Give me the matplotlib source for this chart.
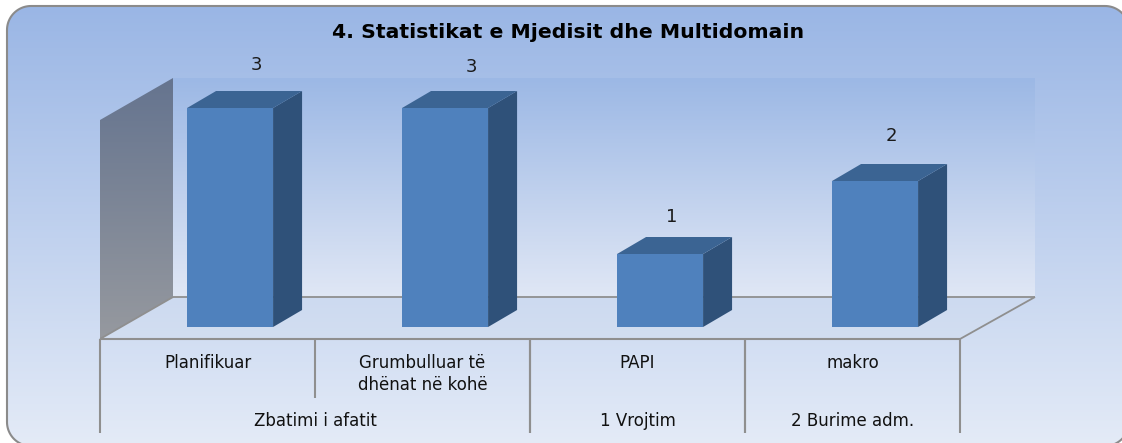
import numpy as np
import matplotlib
matplotlib.use("Agg")
import matplotlib.pyplot as plt
from matplotlib.patches import Polygon

title = "4. Statistikat e Mjedisit dhe Multidomain"
categories = ["Planifikuar", "Grumbulluar të\ndhënat në kohë", "PAPI", "makro"]
groups = ["Zbatimi i afatit", "1 Vrojtim", "2 Burime adm."]
group_spans = [(0, 2), (2, 3), (3, 4)]
values = [3, 3, 1, 2]

W, H = 1122, 443
PX_X0, PX_UNIT_X = 100.0, 215.0
PX_Y0, PX_UNIT_Y = 327.0, 73.0
FONT = "DejaVu Sans"

plt.rcParams["font.family"] = FONT
fig = plt.figure(figsize=(W / 100, H / 100), dpi=100, facecolor="white")

# background layer in pixel coordinates
bg = fig.add_axes([0, 0, 1, 1])
bg.set_xlim(0, W)
bg.set_ylim(H, 0)
bg.axis("off")


def vgrad(axis, top, bottom, extent, clip=None, zorder=1):
    c0 = np.array(matplotlib.colors.to_rgb(top))
    c1 = np.array(matplotlib.colors.to_rgb(bottom))
    t = np.linspace(0, 1, 256)[:, None, None]
    img = c0[None, None, :] * (1 - t) + c1[None, None, :] * t
    im = axis.imshow(img, extent=extent, aspect="auto", zorder=zorder,
                     interpolation="bilinear")
    if clip is not None:
        im.set_clip_path(clip)
    return im


def rounded_outline(x0, y0, x1, y1, r):
    pts = []
    corners = [(x1 - r, y0 + r, -90), (x1 - r, y1 - r, 0), (x0 + r, y1 - r, 90), (x0 + r, y0 + r, 180)]
    for cx, cy, start in corners:
        a = np.radians(np.linspace(start, start + 90, 24))
        pts.extend(zip(cx + r * np.cos(a), cy + r * np.sin(a)))
    return pts


frame = Polygon(rounded_outline(7, 6, 1129, 446, 24), closed=True,
                facecolor="none", edgecolor="#8b8b8b", linewidth=1.5, zorder=3)
bg.add_patch(frame)
vgrad(bg, "#9ab6e5", "#e4ebf7", (7, 1129, 446, 6), clip=frame, zorder=1)
bg.set_xlim(0, W)
bg.set_ylim(H, 0)

# chart layer in data coordinates
ax = fig.add_axes([0, 0, 1, 1])
ax.patch.set_alpha(0)
ax.axis("off")
xlim = ((0 - PX_X0) / PX_UNIT_X, (W - PX_X0) / PX_UNIT_X)
ylim = ((PX_Y0 - H) / PX_UNIT_Y, (PX_Y0 - 0) / PX_UNIT_Y)

n = len(categories)
top_v = max(values)
bar_w = 0.4
bar_off = 0.105
dx_bar, dy_bar = 29 / PX_UNIT_X, 17 / PX_UNIT_Y
floor_front = (PX_Y0 - 339) / PX_UNIT_Y
floor_back = (PX_Y0 - 297) / PX_UNIT_Y
wall_dx = 73 / PX_UNIT_X
wall_right = n + 75 / PX_UNIT_X
wall_top = floor_back + top_v


def grad_poly(pts, top, bottom, zorder):
    xs, ys = zip(*pts)
    poly = Polygon(pts, closed=True, facecolor="none", edgecolor="none", zorder=zorder)
    ax.add_patch(poly)
    vgrad(ax, top, bottom, (min(xs), max(xs), min(ys), max(ys)), clip=poly, zorder=zorder)


# back wall
grad_poly([(wall_dx, floor_back), (wall_right, floor_back), (wall_right, wall_top), (wall_dx, wall_top)],
          "#9cb8e5", "#e0e7f5", 1)
# left wall
grad_poly([(0, floor_front), (wall_dx, floor_back), (wall_dx, wall_top), (0, floor_front + top_v)],
          "#65748f", "#96999f", 2)
# floor
grad_poly([(0, floor_front), (n, floor_front), (wall_right, floor_back), (wall_dx, floor_back)],
          "#cddaf0", "#d2def1", 2)

line = dict(color="#8f8f8f", solid_capstyle="butt", zorder=3)
ax.plot([wall_dx, wall_right], [floor_back, floor_back], lw=1.3, **line)
ax.plot([0, wall_dx], [floor_front, floor_back], lw=1.3, **line)
ax.plot([n, wall_right], [floor_front, floor_back], lw=1.3, **line)
ax.plot([0, n], [floor_front, floor_front], lw=1.5, **line)

# bars
xc = np.arange(n) + 0.5 + bar_off
ax.bar(xc, values, width=bar_w, color="#4f81bd", zorder=5, linewidth=0)
for x, v in zip(xc, values):
    l, r = x - bar_w / 2, x + bar_w / 2
    ax.add_patch(Polygon([(r, 0), (r + dx_bar, dy_bar), (r + dx_bar, v + dy_bar), (r, v)],
                         facecolor="#2f5179", edgecolor="none", zorder=5))
    ax.add_patch(Polygon([(l, v), (r, v), (r + dx_bar, v + dy_bar), (l + dx_bar, v + dy_bar)],
                         facecolor="#3b6493", edgecolor="none", zorder=5))

# value labels
nudge_x = [26, 26, 12, 16]
nudge_y = [43, 41, 37, 45]
for x, v, nx, ny in zip(xc, values, nudge_x, nudge_y):
    ax.annotate(str(v), (x, v), xytext=(nx * 0.72, ny * 0.72), textcoords="offset points",
                ha="center", va="center", fontsize=13, color="#1a1a1a", zorder=6)

# multi-level axis
tick_bottom = (PX_Y0 - 433) / PX_UNIT_Y
tick_mid = (PX_Y0 - 398) / PX_UNIT_Y
for s, e in group_spans:
    ax.plot([s, s], [floor_front, tick_bottom], lw=1.5, **line)
    ax.plot([e, e], [floor_front, tick_bottom], lw=1.5, **line)
    for k in range(s + 1, e):
        ax.plot([k, k], [floor_front, tick_mid], lw=1.5, **line)

for i, c in enumerate(categories):
    ax.text(i + 0.5, (PX_Y0 - 354) / PX_UNIT_Y, c, ha="center", va="top", fontsize=12,
            color="#111111", linespacing=1.32, zorder=6)
for (s, e), g in zip(group_spans, groups):
    ax.text((s + e) / 2, (PX_Y0 - 421) / PX_UNIT_Y, g, ha="center", va="center", fontsize=12,
            color="#111111", zorder=6)

ax.text((568 - PX_X0) / PX_UNIT_X, (PX_Y0 - 33) / PX_UNIT_Y, title, ha="center", va="center",
        fontsize=14.7, fontweight="bold", color="#000000", zorder=6)

ax.set_xlim(*xlim)
ax.set_ylim(*ylim)
fig.savefig("out.png", dpi=100)
